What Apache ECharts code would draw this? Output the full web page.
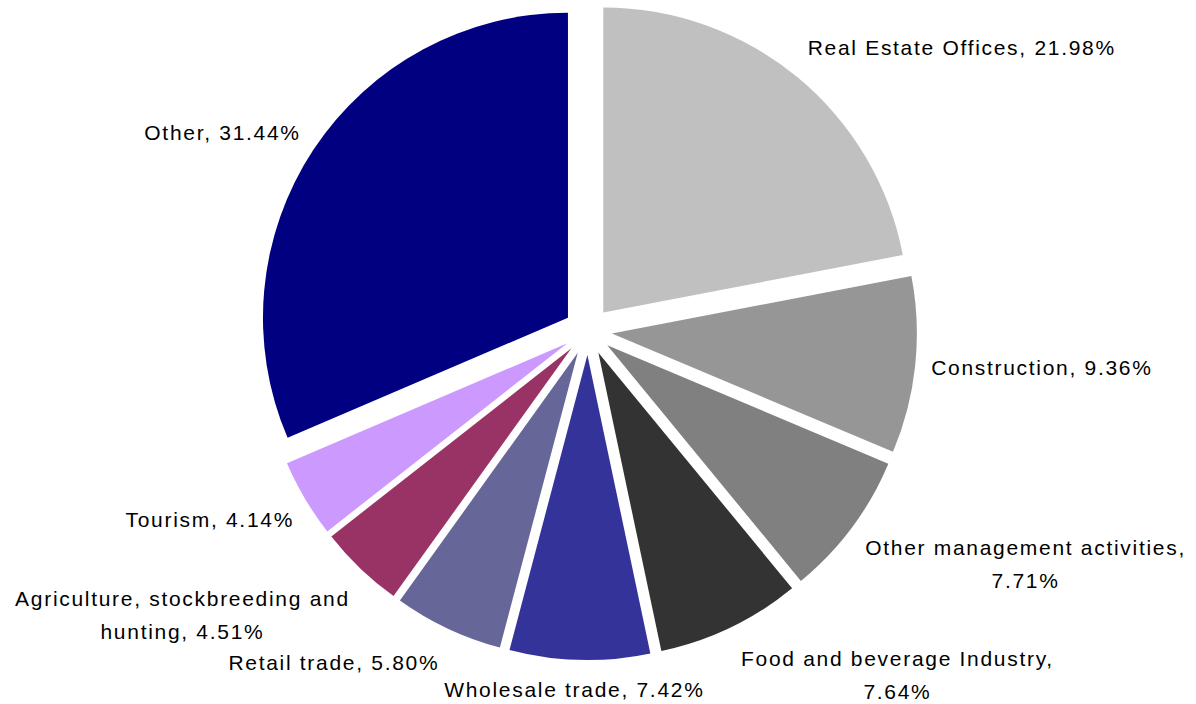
<!DOCTYPE html>
<html>
<head>
<meta charset="utf-8">
<script src="https://cdn.jsdelivr.net/npm/echarts@6/dist/echarts.min.js"></script>
<style>
  html, body { margin: 0; padding: 0; background: #ffffff; }
  #chart { width: 1196px; height: 704px; }
  /* slightly airy label lettering */
  #chart svg text { letter-spacing: 1.7px; }
</style>
</head>
<body>
<div id="chart"></div>
<script>
// Sector shares, clockwise from 12 o'clock
const categories = [
  'Real Estate Offices',
  'Construction',
  'Other management activities',
  'Food and beverage Industry',
  'Wholesale trade',
  'Retail trade',
  'Agriculture, stockbreeding and hunting',
  'Tourism',
  'Other'
];
const shares = [21.98, 9.36, 7.71, 7.64, 7.42, 5.80, 4.51, 4.14, 31.44];
// Label text for each slice (a trailing line break puts the value on its own line)
const labelNames = [
  'Real Estate Offices',
  'Construction',
  'Other management activities,\n',
  'Food and beverage Industry,\n',
  'Wholesale trade',
  'Retail trade',
  'Agriculture, stockbreeding and\nhunting',
  'Tourism',
  'Other'
];
const sliceColors = ['#C0C0C0', '#969696', '#808080', '#333333', '#333399',
                     '#666699', '#993366', '#CC99FF', '#000080'];

// Fine placement of each label relative to where the pie puts it (px)
const labelNudgeX = [0, 3, 2, 2, 130, 0, 0, 1, -1];
const labelNudgeY = [-24, 1, 32, 40, 22, 27, 41, 17, -13];
const LETTER_SPACING = 1.7;

const chart = echarts.init(document.getElementById('chart'), null, { renderer: 'svg' });

const data = categories.map((name, i) => ({
  name: name,
  value: shares[i],
  selected: true,
  itemStyle: { color: sliceColors[i] }
}));

function labelText(p) {
  const base = labelNames[p.dataIndex];
  const pct = p.value.toFixed(2) + '%';
  return base.endsWith('\n') ? base + pct : base + ', ' + pct;
}

chart.setOption({
  animation: false,
  backgroundColor: '#ffffff',
  series: [{
    type: 'pie',
    center: [588, 331],
    radius: 305,
    startAngle: 90,
    clockwise: true,
    selectedMode: 'multiple',
    selectedOffset: 24,
    avoidLabelOverlap: false,
    data: data,
    itemStyle: { borderWidth: 0 },
    label: {
      show: true,
      position: 'outside',
      formatter: labelText,
      fontFamily: 'Liberation Sans, Arial, sans-serif',
      fontSize: 21,
      color: '#000000',
      lineHeight: 33
    },
    labelLine: { show: false, length: 8, length2: 0 },
    labelLayout: function (params) {
      const i = params.dataIndex;
      const lines = labelText({ dataIndex: i, value: shares[i] }).split('\n');
      const maxChars = Math.max.apply(null, lines.map(l => l.length));
      const w = params.labelRect.width + LETTER_SPACING * maxChars;
      // centre every line of the label while keeping its outer edge in place
      const shift = params.align === 'left' ? w / 2 : (params.align === 'right' ? -w / 2 : 0);
      return {
        align: 'center',
        dx: shift + labelNudgeX[i],
        dy: labelNudgeY[i],
        hideOverlap: false
      };
    },
    emphasis: { disabled: true }
  }]
});
</script>
</body>
</html>
